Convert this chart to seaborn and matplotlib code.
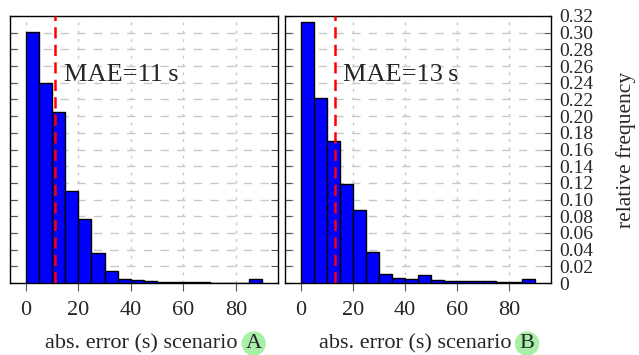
import numpy as np
import matplotlib
matplotlib.use("Agg")
import matplotlib.pyplot as plt
import seaborn as sns
from matplotlib.ticker import MultipleLocator, FuncFormatter

# histogram bins (abs. error in seconds), width 5
bin_centers = [2.5, 7.5, 12.5, 17.5, 22.5, 27.5, 32.5, 37.5, 42.5,
               47.5, 52.5, 57.5, 62.5, 67.5, 72.5, 77.5, 82.5, 87.5]
freq_a = [0.301, 0.240, 0.205, 0.110, 0.077, 0.036, 0.0144, 0.0044, 0.003,
          0.002, 0.001, 0.001, 0.001, 0.001, 0.0005, 0.0, 0.0, 0.0044]
freq_b = [0.313, 0.2216, 0.170, 0.119, 0.0876, 0.0376, 0.0108, 0.006, 0.0048,
          0.010, 0.0036, 0.0024, 0.002, 0.002, 0.0028, 0.001, 0.001, 0.0048]
mae = [11, 13]
scenarios = ["A", "B"]
x_ticks = [0, 20, 40, 60, 80]

sns.set_style("white")
plt.rcParams["font.family"] = ["Liberation Serif", "DejaVu Serif"]

fig = plt.figure(figsize=(6.39, 3.55), dpi=100)
ax_a = fig.add_axes([10 / 639, 72 / 355, 268 / 639, 267 / 355])
ax_b = fig.add_axes([285 / 639, 72 / 355, 266 / 639, 267 / 355])

for ax, freq, m, tx in zip([ax_a, ax_b], [freq_a, freq_b], mae, [14.5, 16.4]):
    sns.histplot(x=bin_centers, weights=freq, binwidth=5, binrange=(0, 90),
                 color="#0000ff", edgecolor="black", linewidth=1.0, alpha=1,
                 ax=ax, zorder=3)
    ax.axvline(m, color="#ff0000", ls=(0, (4.5, 2.5)), lw=1.8, zorder=4)
    ax.text(tx, 0.2424, f"MAE={m}\u2009s", fontsize=19, zorder=5)
    ax.set_xlim(-6, 96)
    ax.set_ylim(0, 0.32)
    ax.yaxis.set_major_locator(MultipleLocator(0.02))
    ax.set_xticks(x_ticks)
    ax.grid(axis="y", color="#c8c8c8", ls=(0, (6, 6)), lw=1.0, zorder=0)
    ax.grid(axis="x", color="#c8c8c8", ls=(0, (2, 4)), lw=1.0, zorder=0)
    ax.tick_params(axis="y", direction="in", left=True, right=True, length=5,
                   color="#555555", labelleft=False, labelright=False)
    ax.tick_params(axis="x", direction="out", bottom=True, length=6,
                   color="#555555", labelsize=16, pad=7)
    for s in ax.spines.values():
        s.set_color("black")
        s.set_linewidth(1.0)
    ax.set_ylabel("")
    ax.set_xlabel("abs. error (s) scenario ", fontsize=16, labelpad=10)

# circled scenario letters next to the x labels
fig.canvas.draw()
inv = fig.transFigure.inverted()
for ax, sc in zip([ax_a, ax_b], scenarios):
    bb = ax.xaxis.label.get_window_extent()
    x1, _ = inv.transform((bb.x1, bb.y0))
    _, yc = inv.transform((bb.x0, (bb.y0 + bb.y1) / 2))
    fig.text(x1 + 0.004, yc, sc, fontsize=16, ha="left", va="center",
             bbox=dict(boxstyle="circle,pad=0.12", fc="#a8f0a8", ec="none"))

ax_b.tick_params(axis="y", labelright=True, labelsize=14, pad=6)
ax_b.yaxis.set_major_formatter(FuncFormatter(lambda v, p: "0" if v == 0 else f"{v:.2f}"))
ax_b.yaxis.set_label_position("right")
ax_b.set_ylabel("relative frequency", fontsize=15.5, labelpad=16)

fig.savefig("out.png", dpi=100)
